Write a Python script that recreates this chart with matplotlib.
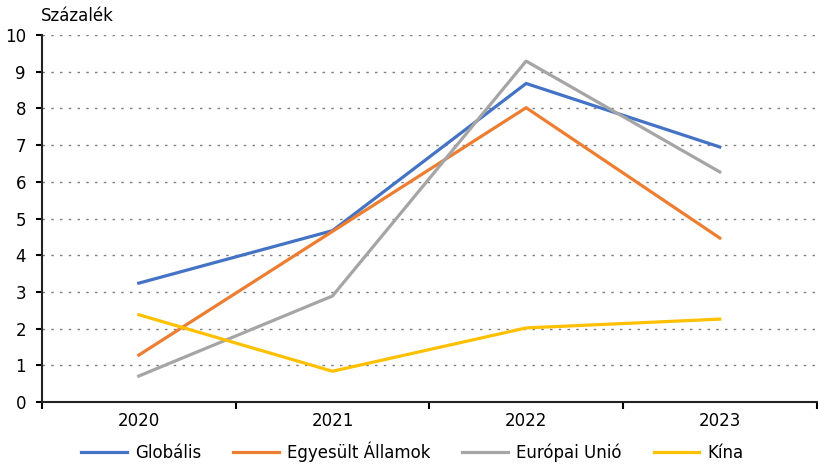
import matplotlib.pyplot as plt
from matplotlib.ticker import MultipleLocator, FixedLocator

plt.rcParams['font.family'] = ['DejaVu Sans']

# adatok
evek = ['2020', '2021', '2022', '2023']
globalis = [3.24, 4.67, 8.68, 6.95]
usa = [1.28, 4.65, 8.02, 4.47]
eu = [0.71, 2.89, 9.29, 6.27]
kina = [2.38, 0.84, 2.02, 2.26]

sorozatok = [
    ('Globális', globalis, '#4472C4'),
    ('Egyesült Államok', usa, '#ED7D31'),
    ('Európai Unió', eu, '#A5A5A5'),
    ('Kína', kina, '#FFC000'),
]

fig = plt.figure(figsize=(8.18, 4.67), dpi=100)
ax = fig.add_axes([0.0513, 0.139, 0.947, 0.786])

x = list(range(len(evek)))
for nev, ertekek, szin in sorozatok:
    ax.plot(x, ertekek, color=szin, linewidth=2.3, label=nev)

ax.set_xlim(-0.5, len(evek) - 0.5)
ax.set_ylim(0, 10)
ax.yaxis.set_major_locator(MultipleLocator(1))
ax.set_xticks(x)
ax.set_xticklabels(evek, fontsize=12)
ax.xaxis.set_minor_locator(FixedLocator([i - 0.5 for i in range(len(evek) + 1)]))
ax.tick_params(axis='x', which='major', length=0, pad=7)
ax.tick_params(axis='x', which='minor', length=5, width=1.5, direction='out')
ax.tick_params(axis='y', length=4.5, width=1.5, labelsize=12, pad=7)

for s in ['top', 'right']:
    ax.spines[s].set_visible(False)
for s in ['left', 'bottom']:
    ax.spines[s].set_linewidth(1.5)
    ax.spines[s].set_color('#222222')

ax.grid(axis='y', color='#808080', linestyle=(0, (1.8, 4.5)), linewidth=1.0)
ax.set_axisbelow(True)

fig.text(0.05, 0.966, 'Százalék', fontsize=12, ha='left', va='center')

fig.legend(loc='lower center', bbox_to_anchor=(0.504, -0.022), ncol=4, frameon=False,
           fontsize=12, handlelength=2.75, handletextpad=0.5, columnspacing=1.9)

plt.savefig('out.png', dpi=100)
